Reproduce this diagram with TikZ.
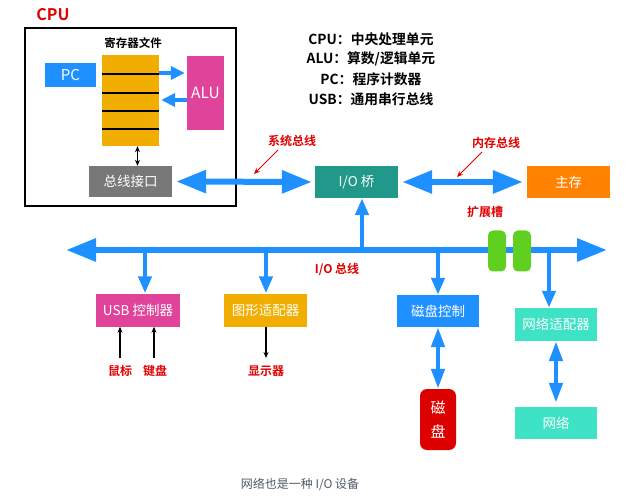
\documentclass[tikz,border=0pt]{standalone}
\usepackage{fontspec}
\setmainfont{Noto Sans CJK SC}[BoldFont={Noto Sans CJK SC Bold}]
\usetikzlibrary{arrows.meta}
\definecolor{busblue}{HTML}{1E90FF}
\definecolor{regor}{HTML}{F2AE00}
\definecolor{pinkc}{HTML}{E0449A}
\definecolor{grayc}{HTML}{787878}
\definecolor{tealc}{HTML}{20998A}
\definecolor{orangec}{HTML}{FF8200}
\definecolor{redc}{HTML}{DD0000}
\definecolor{aquac}{HTML}{3DE3C4}
\definecolor{greenc}{HTML}{5FD020}
\definecolor{labred}{HTML}{E00000}
\definecolor{capgray}{HTML}{505A66}
\begin{document}
\begin{tikzpicture}[x=1pt,y=-1pt,
  box/.style={rectangle,inner sep=0pt,text=white,font=\fontsize{13.5}{15}\selectfont},
  redlab/.style={text=labred,font=\bfseries\fontsize{12}{14}\selectfont},
  leg/.style={font=\bfseries\fontsize{13.8}{15}\selectfont},
  bigbus/.style={draw=busblue,line width=6pt,{Triangle[length=30pt,width=22pt]}-{Triangle[length=30pt,width=22pt]}},
  tap/.style={draw=busblue,line width=4.5pt,-{Triangle[length=17pt,width=13pt]}},
  tapboth/.style={draw=busblue,line width=4.5pt,{Triangle[length=20pt,width=13pt]}-{Triangle[length=20pt,width=13pt]}},
  thin/.style={draw=black,line width=1.1pt,-{Stealth[length=6pt,width=5pt]}},
  redarrow/.style={draw=labred,line width=0.9pt,-{Stealth[length=6pt,width=5pt]}}]
\useasboundingbox (0,0) rectangle (630,500);
\fill[white] (0,0) rectangle (630,500);

% CPU
\node[text=labred,font=\bfseries\fontsize{16}{18}\selectfont] (cpulab) at (53,15) {CPU};
\node[draw=black,line width=1.2pt,rectangle,minimum width=211pt,minimum height=178pt,inner sep=0pt] (cpubox) at (130.5,117) {};
\node[font=\bfseries\fontsize{11.5}{13}\selectfont] (reglab) at (133,43) {寄存器文件};
\node[box,fill=regor,minimum width=57pt,minimum height=91pt] (reg) at (130.5,100.5) {};
\foreach \yy in {74,93,111,129} \draw[black,line width=1.1pt] (102,\yy) -- (159,\yy);
\node[box,fill=busblue,minimum width=51pt,minimum height=24pt,font=\fontsize{15}{17}\selectfont] (pc) at (70.5,75) {PC};
\node[box,fill=pinkc,minimum width=37pt,minimum height=74pt,font=\fontsize{15.5}{17}\selectfont] (alu) at (205.5,93) {ALU};
\draw[draw=busblue,line width=4.5pt,-{Triangle[length=14pt,width=13pt]}] (reg.east |- 0,73) -- ([xshift=-2pt]alu.west |- 0,73);
\draw[draw=busblue,line width=4.5pt,-{Triangle[length=14pt,width=13pt]}] (alu.west |- 0,100) -- ([xshift=2pt]reg.east |- 0,100);
\node[box,fill=grayc,minimum width=83pt,minimum height=31pt] (bi) at (130.5,181.5) {总线接口};
\draw[draw=black,line width=1.1pt,{Stealth[length=6pt,width=5pt]}-{Stealth[length=6pt,width=5pt]}] ([xshift=7pt]reg.south) -- ([xshift=7pt]bi.north);

% bridge, memory
\node[box,fill=tealc,minimum width=83pt,minimum height=32pt] (bridge) at (356.5,182) {I/O 桥};
\node[box,fill=orangec,minimum width=83pt,minimum height=32pt] (mem) at (568.5,182) {主存};
\draw[bigbus,shorten <=4pt,shorten >=4pt] (bridge.east) -- (mem.west);

\node[redlab] (sysbus) at (292,141) {系统总线};
\node[redlab] (membus) at (496,143) {内存总线};
\coordinate (membuspt) at (457,177);
\draw[redarrow] (482,152) -- (membuspt);

% legend
\node[leg] (l1) at (371,39) {CPU：中央处理单元};
\node[leg] (l2) at (371,59) {ALU：算数/逻辑单元};
\node[leg] (l3) at (371,79) {PC：程序计数器};
\node[leg] (l4) at (371,99) {USB：通用串行总线};

% I/O bus
\coordinate (busL) at (66,250);
\coordinate (busR) at (607,250);
\draw[bigbus] (busL) -- (busR);
\coordinate (tbr) at (362,250);
\draw[tap,shorten <=-2pt] (tbr) -- (tbr |- bridge.south);
\node[redlab] (iobus) at (337,269) {I/O 总线};
\node[redlab] (slotlab) at (485,212) {扩展槽};
\node[rectangle,rounded corners=5pt,fill=greenc,minimum width=18pt,minimum height=41pt,inner sep=0pt] (slot1) at (497,251) {};
\node[rectangle,rounded corners=5pt,fill=greenc,minimum width=18pt,minimum height=41pt,inner sep=0pt] (slot2) at (522,251) {};

% devices
\node[box,fill=pinkc,minimum width=84pt,minimum height=33pt] (usb) at (138,310) {USB 控制器};
\node[box,fill=regor,minimum width=83pt,minimum height=33pt] (gfx) at (265.5,310) {图形适配器};
\node[box,fill=busblue,minimum width=82pt,minimum height=32pt] (diskc) at (438,311) {磁盘控制};
\node[box,fill=aquac,minimum width=82pt,minimum height=33pt] (nic) at (556,324.5) {网络适配器};
\node[box,fill=aquac,minimum width=82pt,minimum height=32pt] (net) at (556,423) {网络};
\node[box,fill=redc,rounded corners=7pt,minimum width=36pt,minimum height=61pt,align=center,font=\fontsize{15}{24}\selectfont] (disk) at (438,419.5) {磁\\盘};

\coordinate (t1) at (145,250);
\coordinate (t2) at (266,250);
\coordinate (t3) at (438,250);
\coordinate (t4) at (549,250);
\draw[tap,shorten <=-2pt] (t1) -- (t1 |- usb.north);
\draw[tap,shorten <=-2pt] (t2) -- (t2 |- gfx.north);
\draw[tap,shorten <=-2pt] (t3) -- (diskc.north);
\draw[tap,shorten <=-2pt] (t4) -- (t4 |- nic.north);
\draw[tapboth] (diskc.south) -- (disk.north);
\draw[tapboth,shorten >=4pt] (nic.south) -- (net.north);

% peripherals
\node[redlab] (mouse) at (120,371) {鼠标};
\node[redlab] (kbd) at (155,371) {键盘};
\node[redlab] (disp) at (266,371) {显示器};
\coordinate (m0) at (120,358);
\coordinate (k0) at (154,358);
\coordinate (d0) at (266,358);
\draw[thin] (m0) -- (m0 |- usb.south);
\draw[thin] (k0) -- (k0 |- usb.south);
\draw[thin] (d0 |- gfx.south) -- (d0);

\node[text=capgray,font=\fontsize{12}{14}\selectfont] (cap) at (300,484) {网络也是一种 I/O 设备};

% system bus drawn last, over the CPU frame
\draw[bigbus,shorten <=4pt,shorten >=3pt] (bi.east) -- (bridge.west);
\coordinate (sysbuspt) at (254,174);
\draw[redarrow] (278,150) -- (sysbuspt);
\end{tikzpicture}
\end{document}
